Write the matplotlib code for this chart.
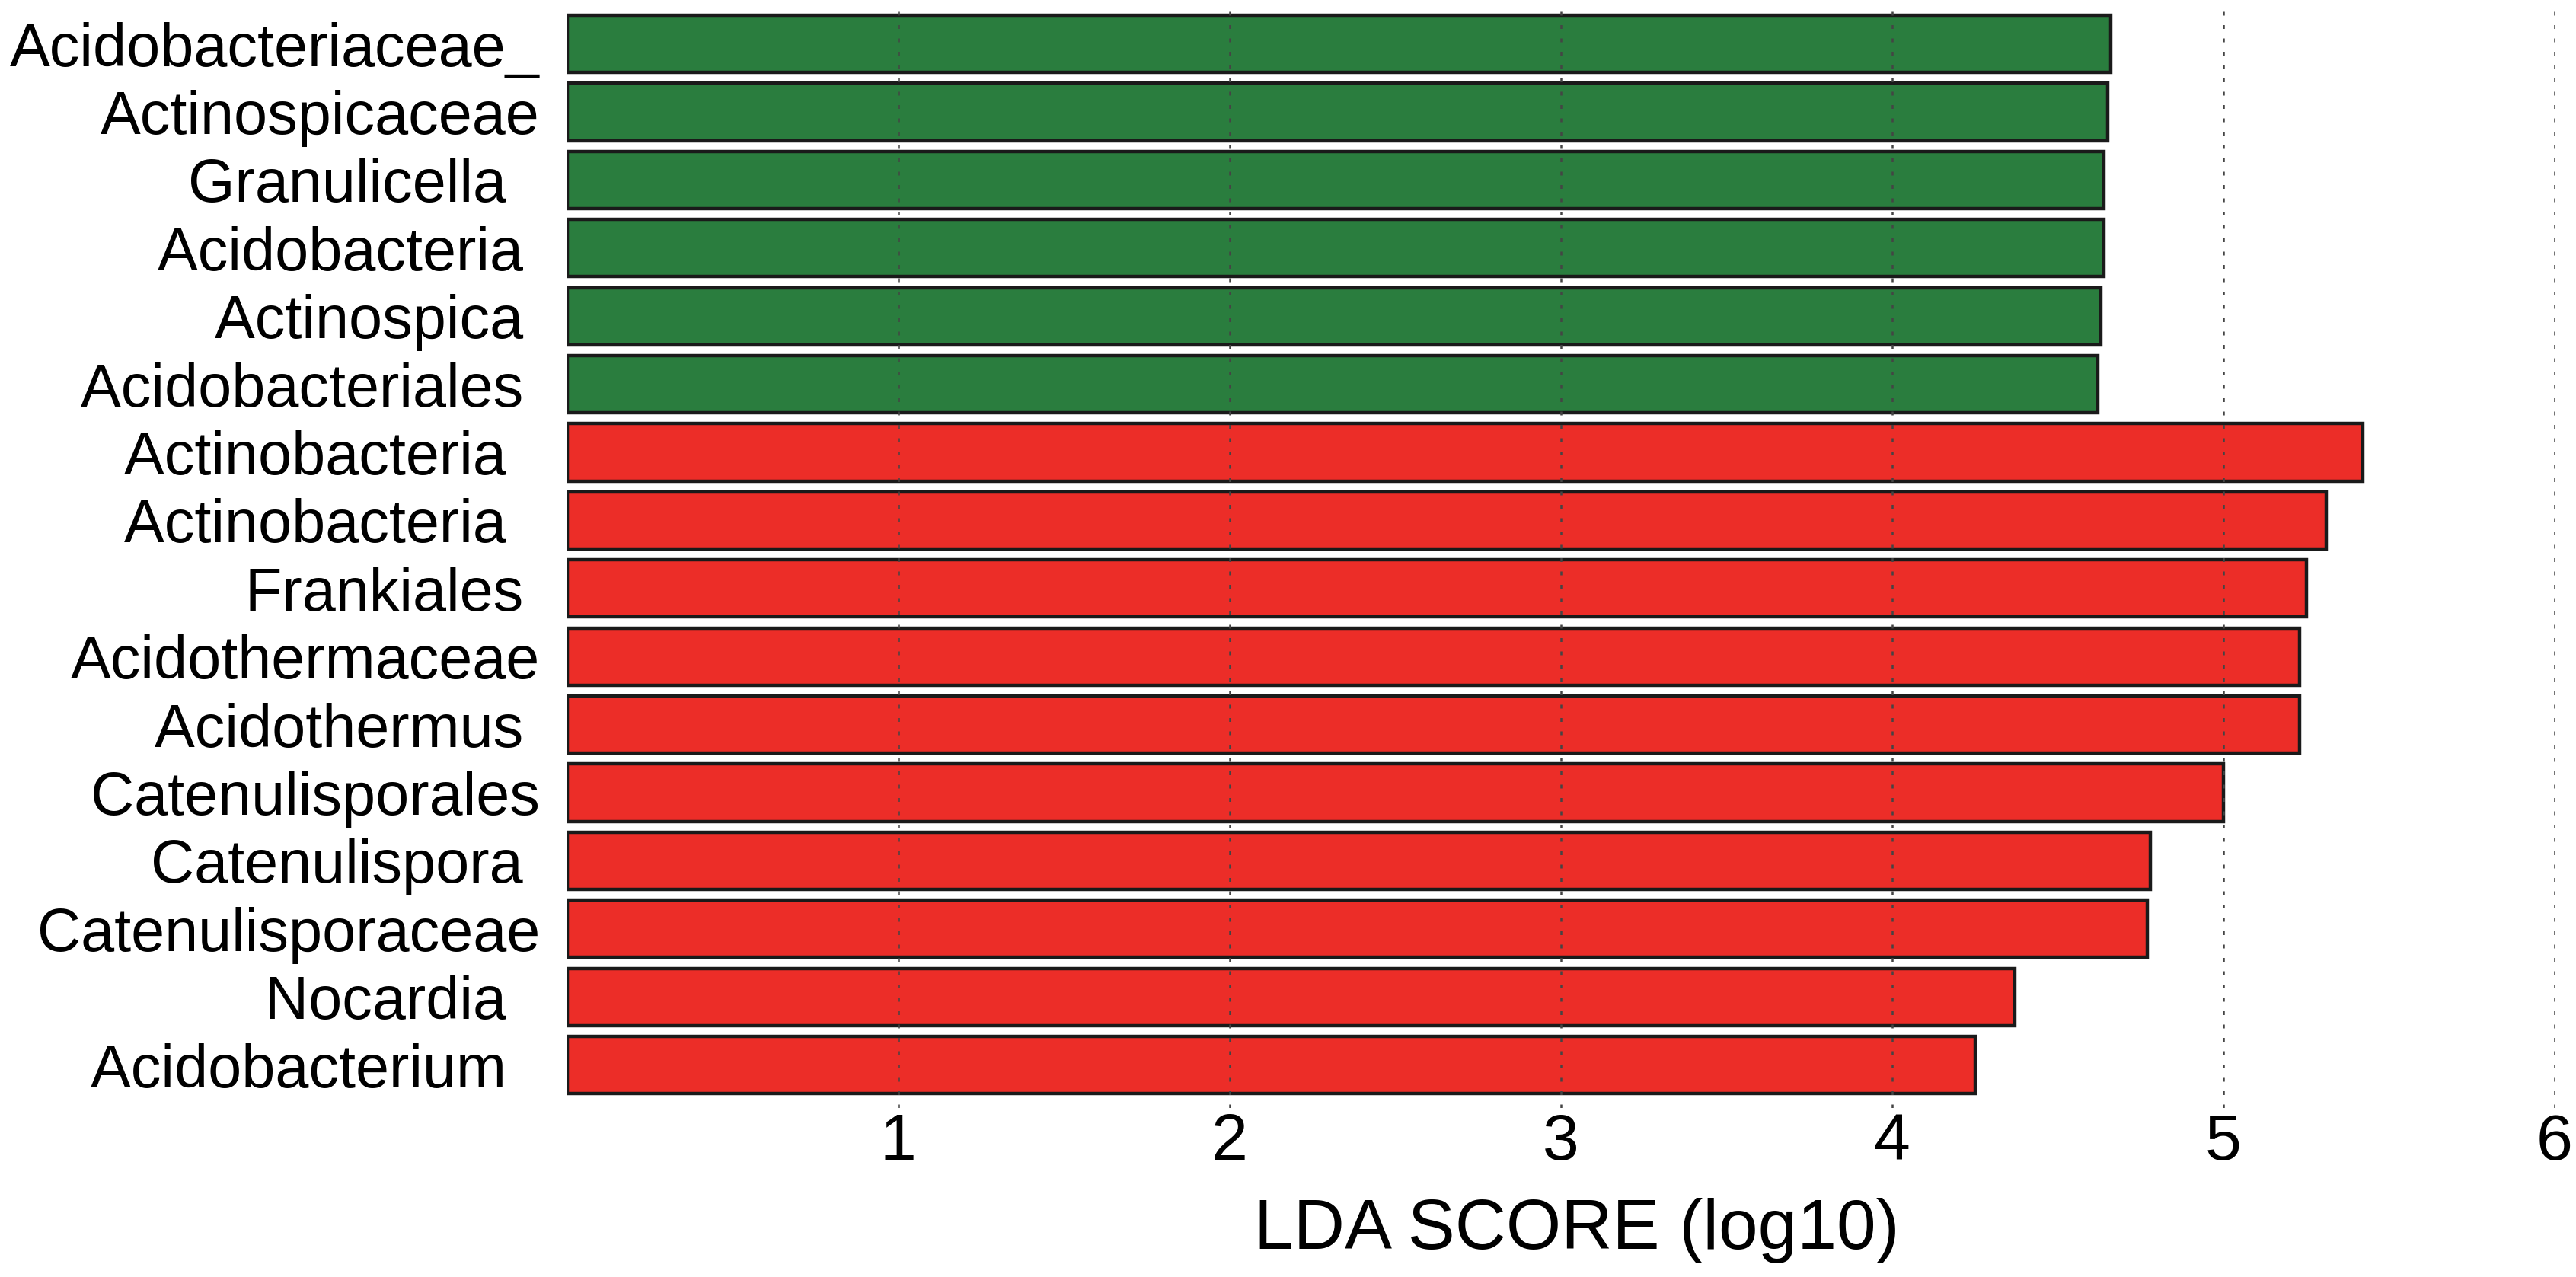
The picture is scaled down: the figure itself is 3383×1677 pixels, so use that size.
import matplotlib.pyplot as plt

plt.rcParams["font.family"] = ["Liberation Sans", "DejaVu Sans"]

# taxa from top to bottom (trailing spaces keep the ragged label ends of the original)
TAXA = [
    "Acidobacteriaceae_", "Actinospicaceae", "Granulicella  ", "Acidobacteria ",
    "Actinospica ", "Acidobacteriales ", "Actinobacteria  ", "Actinobacteria  ",
    "Frankiales ", "Acidothermaceae", "Acidothermus ", "Catenulisporales",
    "Catenulispora ", "Catenulisporaceae", "Nocardia  ", "Acidobacterium  ",
]
LDA = [4.66, 4.65, 4.64, 4.64, 4.63, 4.62,
       5.42, 5.31, 5.25, 5.23, 5.23, 5.00, 4.78, 4.77, 4.37, 4.25]
GROUP = ["green"] * 6 + ["red"] * 10

COLORS = {"green": "#2a7d3e", "red": "#ec2d28"}
X_TICKS = [1, 2, 3, 4, 5, 6]


def main():
    fig = plt.figure(figsize=(33.83, 16.77), dpi=100)
    ax = fig.add_axes([0.2202, 0.1324, 0.7715, 0.8586])

    ypos = list(range(len(TAXA)))
    ax.barh(ypos, LDA, height=0.84, left=0,
            color=[COLORS[g] for g in GROUP],
            edgecolor="#1a1a1a", linewidth=3.2)

    ax.set_xlim(0, 6)
    ax.set_ylim(len(TAXA) - 0.37, -0.475)

    ax.set_yticks(ypos)
    ax.set_yticklabels(TAXA, fontsize=57)
    ax.set_xticks(X_TICKS)
    ax.set_xticklabels([str(t) for t in X_TICKS], fontsize=62)
    ax.tick_params(axis="y", length=0, pad=26)
    ax.tick_params(axis="x", length=0, pad=4)

    ax.grid(True, axis="x", color="#444444", linestyle=(0, (2, 5)), linewidth=1.8)
    ax.grid(False, axis="y")

    for side in ["top", "right", "bottom", "left"]:
        ax.spines[side].set_visible(False)

    ax.set_xlabel("LDA SCORE (log10)", fontsize=67)
    ax.xaxis.set_label_coords(0.508, -0.082)

    fig.savefig("out.png", dpi=100)


if __name__ == "__main__":
    main()
